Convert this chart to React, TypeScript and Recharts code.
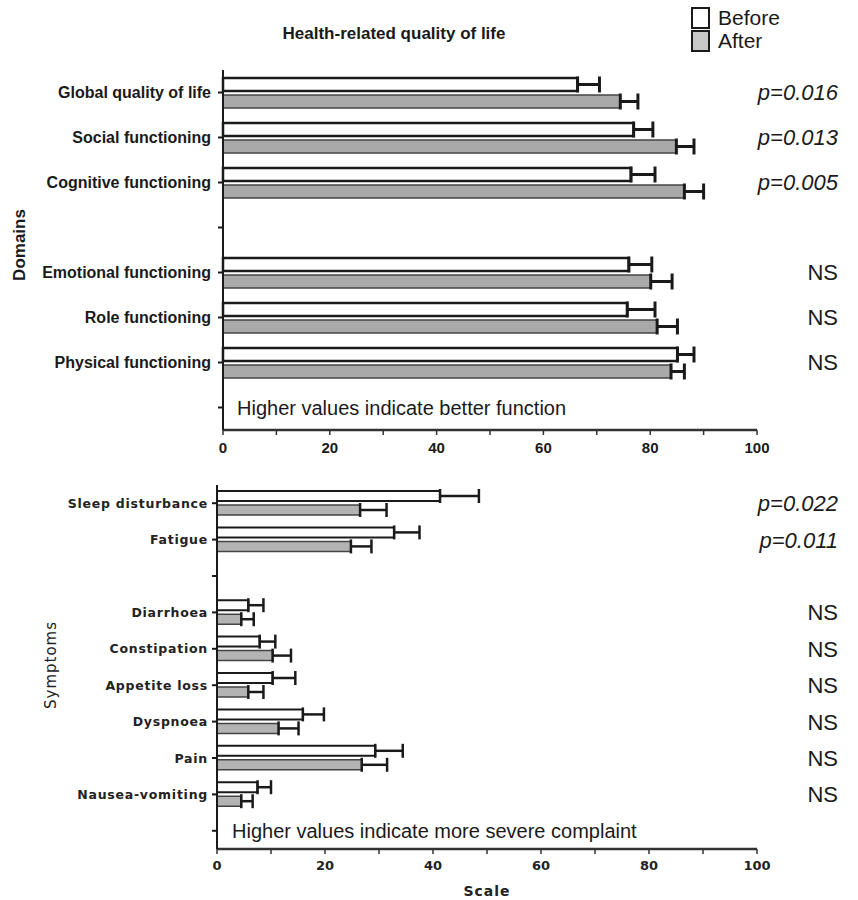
import React from 'react';
import { BarChart, Bar, XAxis, YAxis, ErrorBar } from 'recharts';

// ---------- Data ----------
const domainLabels = [
  'Global quality of life',
  'Social functioning',
  'Cognitive functioning',
  '',
  'Emotional functioning',
  'Role functioning',
  'Physical functioning',
  '',
];
const domainBefore = [66.4, 76.9, 76.4, null, 76.0, 75.7, 85.1, null];
const domainBeforeErr = [4.1, 3.6, 4.5, null, 4.3, 5.2, 3.1, null];
const domainAfter = [74.4, 84.9, 86.4, null, 80.1, 81.3, 83.9, null];
const domainAfterErr = [3.3, 3.3, 3.6, null, 4.0, 3.8, 2.5, null];
const domainNotes = ['p=0.016', 'p=0.013', 'p=0.005', '', 'NS', 'NS', 'NS', ''];
const domainFootnote = 'Higher values indicate better function';

const symptomLabels = [
  'Sleep disturbance',
  'Fatigue',
  '',
  'Diarrhoea',
  'Constipation',
  'Appetite loss',
  'Dyspnoea',
  'Pain',
  'Nausea-vomiting',
  '',
];
const symptomBefore = [41.3, 32.8, null, 5.8, 7.9, 10.3, 15.9, 29.3, 7.5, null];
const symptomBeforeErr = [7.2, 4.7, null, 2.8, 2.9, 4.2, 3.9, 5.1, 2.5, null];
const symptomAfter = [26.5, 24.8, null, 4.5, 10.3, 5.8, 11.4, 26.8, 4.5, null];
const symptomAfterErr = [4.9, 3.8, null, 2.3, 3.4, 2.8, 3.7, 4.7, 2.1, null];
const symptomNotes = ['p=0.022', 'p=0.011', '', 'NS', 'NS', 'NS', 'NS', 'NS', 'NS', ''];
const symptomFootnote = 'Higher values indicate more severe complaint';

const xTicks = [0, 10, 20, 30, 40, 50, 60, 70, 80, 90, 100];
const xLabelTicks = [0, 20, 40, 60, 80, 100];

const title = 'Health-related quality of life';
const seriesNames = ['Before', 'After'];
const domainAxisTitle = 'Domains';
const symptomAxisTitle = 'Symptoms';
const scaleTitle = 'Scale';

// ---------- Build tables ----------
const errPair = (v: number | null) => (v == null ? null : [0, v]);

const topData = domainLabels.map((_, i) => ({
  key: `d${i}`,
  before: domainBefore[i],
  beforeErr: errPair(domainBeforeErr[i]),
  after: domainAfter[i],
  afterErr: errPair(domainAfterErr[i]),
}));

const bottomData = symptomLabels.map((_, i) => ({
  key: `s${i}`,
  before: symptomBefore[i],
  beforeErr: errPair(symptomBeforeErr[i]),
  after: symptomAfter[i],
  afterErr: errPair(symptomAfterErr[i]),
}));

const SANS = '"Liberation Sans", Arial, Helvetica, sans-serif';
const DEJA = '"DejaVu Sans", Verdana, sans-serif';
const INK = '#1a1a1a';
const GRAY = '#a9a9a9';

const noteStyle = (note: string) => (note.startsWith('p') ? 'italic' : 'normal');

function DomainTick(props: any) {
  const { x, y, payload } = props;
  const i = Number(String(payload.value).slice(1));
  const note = domainNotes[i];
  return (
    <g>
      <text x={x} y={y} dy="0.36em" textAnchor="end" fontFamily={SANS} fontWeight="bold" fontSize={16} fill={INK}>
        {domainLabels[i]}
      </text>
      {note ? (
        <text x={838} y={y} dy="0.36em" textAnchor="end" fontFamily={SANS} fontStyle={noteStyle(note)} fontSize={22} fill={INK}>
          {note}
        </text>
      ) : null}
      {i === domainLabels.length - 1 ? (
        <text x={237} y={y} dy="0.38em" textAnchor="start" fontFamily={SANS} fontSize={20} fill={INK}>
          {domainFootnote}
        </text>
      ) : null}
    </g>
  );
}

function SymptomTick(props: any) {
  const { x, y, payload } = props;
  const i = Number(String(payload.value).slice(1));
  const note = symptomNotes[i];
  return (
    <g>
      <text x={x} y={y} dy="0.36em" textAnchor="end" fontFamily={DEJA} fontWeight="bold" fontSize={12.5} letterSpacing={0.75} fill="#222">
        {symptomLabels[i]}
      </text>
      {note ? (
        <text x={838} y={y} dy="0.36em" textAnchor="end" fontFamily={SANS} fontStyle={noteStyle(note)} fontSize={22} fill={INK}>
          {note}
        </text>
      ) : null}
      {i === symptomLabels.length - 1 ? (
        <text x={232} y={y} dy="0.34em" textAnchor="start" fontFamily={SANS} fontSize={20} fill={INK}>
          {symptomFootnote}
        </text>
      ) : null}
    </g>
  );
}

function TopXTick(props: any) {
  const { x, y, payload } = props;
  if (!xLabelTicks.includes(payload.value)) return <g />;
  return (
    <text x={x} y={y} dy="0.71em" textAnchor="middle" fontFamily={SANS} fontWeight="bold" fontSize={15} fill={INK}>
      {payload.value}
    </text>
  );
}

function BottomXTick(props: any) {
  const { x, y, payload } = props;
  if (!xLabelTicks.includes(payload.value)) return <g />;
  return (
    <text x={x} y={y} dy="0.71em" textAnchor="middle" fontFamily={DEJA} fontWeight="bold" fontSize={13} fill="#222">
      {payload.value}
    </text>
  );
}

export default function App() {
  return (
    <div style={{ position: 'absolute', left: 0, top: 0, width: 858, height: 900, background: '#fff', overflow: 'hidden' }}>
      {/* Title */}
      <div
        style={{
          position: 'absolute',
          left: 194,
          top: 24,
          width: 400,
          textAlign: 'center',
          fontFamily: SANS,
          fontWeight: 'bold',
          fontSize: 17,
          lineHeight: '20px',
          color: INK,
        }}
      >
        {title}
      </div>

      {/* Legend */}
      <div style={{ position: 'absolute', left: 691, top: 6, fontFamily: SANS, fontSize: 21, color: INK }}>
        {seriesNames.map((n, i) => (
          <div key={n} style={{ display: 'flex', alignItems: 'center', height: 23 }}>
            <div
              style={{
                width: 15,
                height: 18,
                border: `2.5px solid ${INK}`,
                background: i === 0 ? '#fff' : '#c8c8c8',
                marginRight: 8,
              }}
            />
            <span style={{ lineHeight: '23px' }}>{n}</span>
          </div>
        ))}
      </div>

      {/* Axis titles */}
      <div
        style={{
          position: 'absolute',
          left: 20,
          top: 245,
          transform: 'translate(-50%, -50%) rotate(-90deg)',
          fontFamily: SANS,
          fontWeight: 'bold',
          fontSize: 17,
          color: INK,
          whiteSpace: 'nowrap',
        }}
      >
        {domainAxisTitle}
      </div>
      <div
        style={{
          position: 'absolute',
          left: 51,
          top: 665,
          transform: 'translate(-50%, -50%) rotate(-90deg)',
          fontFamily: DEJA,
          fontSize: 15,
          letterSpacing: 1,
          color: '#222',
          whiteSpace: 'nowrap',
        }}
      >
        {symptomAxisTitle}
      </div>

      {/* Top chart */}
      <div style={{ position: 'absolute', left: 0, top: 0 }}>
        <BarChart
          width={858}
          height={460}
          data={topData}
          layout="vertical"
          margin={{ top: 70, right: 101, left: 0, bottom: 0 }}
          barCategoryGap={8}
          barGap={4}
        >
          <XAxis
            type="number"
            domain={[0, 100]}
            ticks={xTicks}
            interval={0}
            height={30}
            tickSize={5}
            tickMargin={7}
            tick={(p: any) => <TopXTick {...p} />}
            axisLine={{ stroke: '#333', strokeWidth: 2.5 }}
            tickLine={{ stroke: '#333', strokeWidth: 1.5 }}
          />
          <YAxis
            type="category"
            dataKey="key"
            width={223}
            interval={0}
            tickSize={5}
            tickMargin={7}
            tick={(p: any) => <DomainTick {...p} />}
            axisLine={{ stroke: INK, strokeWidth: 2 }}
            tickLine={{ stroke: INK, strokeWidth: 2 }}
          />
          <Bar dataKey="before" fill="#fff" stroke={INK} strokeWidth={2.5} isAnimationActive={false}>
            <ErrorBar dataKey="beforeErr" direction="x" width={8} stroke={INK} strokeWidth={3} />
          </Bar>
          <Bar dataKey="after" fill={GRAY} stroke="#444" strokeWidth={1.5} isAnimationActive={false}>
            <ErrorBar dataKey="afterErr" direction="x" width={8} stroke={INK} strokeWidth={3} />
          </Bar>
        </BarChart>
      </div>

      {/* Bottom chart */}
      <div style={{ position: 'absolute', left: 0, top: 460 }}>
        <BarChart
          width={858}
          height={440}
          data={bottomData}
          layout="vertical"
          margin={{ top: 25, right: 101, left: 0, bottom: 0 }}
          barCategoryGap={6}
          barGap={4}
        >
          <XAxis
            type="number"
            domain={[0, 100]}
            ticks={xTicks}
            interval={0}
            height={51}
            tickSize={5}
            tickMargin={7}
            tick={(p: any) => <BottomXTick {...p} />}
            axisLine={{ stroke: '#333', strokeWidth: 2.5 }}
            tickLine={{ stroke: '#333', strokeWidth: 1.5 }}
            label={{
              value: scaleTitle,
              position: 'insideBottom',
              offset: 4,
              style: { fontFamily: DEJA, fontWeight: 'bold', fontSize: 14, letterSpacing: 1, fill: '#222' },
            }}
          />
          <YAxis
            type="category"
            dataKey="key"
            width={217}
            interval={0}
            tickSize={5}
            tickMargin={4}
            tick={(p: any) => <SymptomTick {...p} />}
            axisLine={{ stroke: INK, strokeWidth: 2 }}
            tickLine={{ stroke: INK, strokeWidth: 2 }}
          />
          <Bar dataKey="before" fill="#fff" stroke={INK} strokeWidth={2} isAnimationActive={false}>
            <ErrorBar dataKey="beforeErr" direction="x" width={7} stroke={INK} strokeWidth={2.5} />
          </Bar>
          <Bar dataKey="after" fill="#b3b3b3" stroke="#444" strokeWidth={1.5} isAnimationActive={false}>
            <ErrorBar dataKey="afterErr" direction="x" width={7} stroke={INK} strokeWidth={2.5} />
          </Bar>
        </BarChart>
      </div>
    </div>
  );
}
